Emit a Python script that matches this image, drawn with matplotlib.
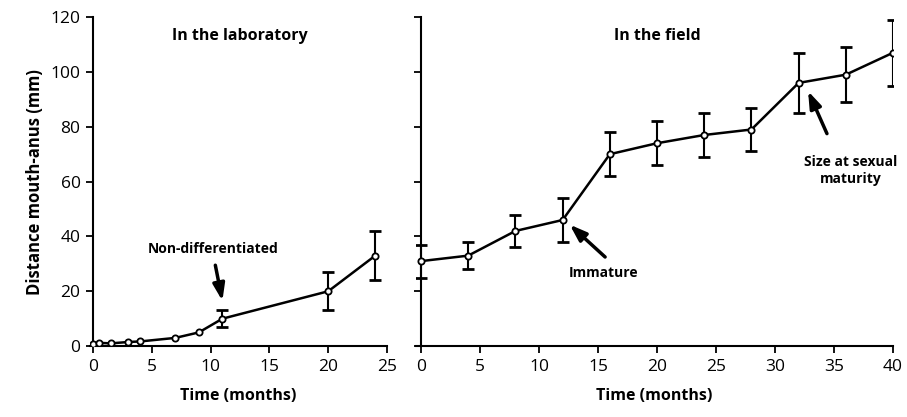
import matplotlib.pyplot as plt

plt.rcParams['font.family'] = ['Open Sans', 'DejaVu Sans']

# laboratory data
lab_t = [0, 0.5, 1.5, 3, 4, 7, 9, 11, 20, 24]
lab_y = [0.7, 1.2, 1.0, 1.5, 1.7, 3, 5, 10, 20, 33]
lab_err_t = [11, 20, 24]
lab_err_y = [10, 20, 33]
lab_err_lo = [3, 7, 9]
lab_err_hi = [3, 7, 9]

# field data
field_t = [0, 4, 8, 12, 16, 20, 24, 28, 32, 36, 40]
field_y = [31, 33, 42, 46, 70, 74, 77, 79, 96, 99, 107]
field_lo = [6, 5, 6, 8, 8, 8, 8, 8, 11, 10, 12]
field_hi = [6, 5, 6, 8, 8, 8, 8, 8, 11, 10, 12]

fig = plt.figure(figsize=(9.07, 4.17), dpi=100)
ax1 = fig.add_axes([0.0987, 0.170, 0.328, 0.789])
ax2 = fig.add_axes([0.459, 0.170, 0.5256, 0.789])

line_kw = dict(color='black', lw=1.8, marker='o', ms=4.5, mfc='white', mec='black', mew=1.3)
err_kw = dict(fmt='none', ecolor='black', elinewidth=1.5, capsize=4, capthick=2)

ax1.plot(lab_t, lab_y, **line_kw, zorder=3)
ax1.errorbar(lab_err_t, lab_err_y, yerr=[lab_err_lo, lab_err_hi], **err_kw)
ax2.plot(field_t, field_y, **line_kw, zorder=3)
ax2.errorbar(field_t, field_y, yerr=[field_lo, field_hi], **err_kw)

ax1.set_xlim(-0.3, 25)
ax2.set_xlim(-0.4, 40)
for ax in (ax1, ax2):
    ax.set_ylim(0, 120)
    ax.spines['top'].set_visible(False)
    ax.spines['right'].set_visible(False)
    ax.spines['left'].set_position(('data', 0))
    ax.spines['left'].set_linewidth(1.5)
    ax.spines['bottom'].set_linewidth(1.5)
    ax.tick_params(width=1.3, length=5, labelsize=12.5, pad=4)
    ax.set_yticks(range(0, 121, 20))
    ax.set_xlabel('Time (months)', fontsize=11.5, fontweight='bold', labelpad=10)

ax1.set_xticks(range(0, 26, 5))
ax2.set_xticks(range(0, 41, 5))
ax2.set_yticklabels([])
ax1.set_ylabel('Distance mouth-anus (mm)', fontsize=12, fontweight='bold', labelpad=5)

ax1.text(12.5, 113, 'In the laboratory', ha='center', va='center', fontsize=11.5, fontweight='bold')
ax2.text(20, 113, 'In the field', ha='center', va='center', fontsize=11.5, fontweight='bold')

arrow = dict(arrowstyle='-|>,head_width=0.35,head_length=1.0', color='black', lw=2.5,
             shrinkA=0, shrinkB=0)
ax1.annotate('', xy=(11, 16.5), xytext=(10.4, 29.5), arrowprops=arrow)
ax1.text(10.2, 35.5, 'Non-differentiated', fontsize=10, fontweight='bold', ha='center', va='center')
ax2.annotate('', xy=(12.6, 44.3), xytext=(15.6, 32.5), arrowprops=arrow)
ax2.text(15.5, 26.5, 'Immature', fontsize=10, fontweight='bold', ha='center', va='center')
ax2.annotate('', xy=(32.8, 93), xytext=(34.4, 77.5), arrowprops=arrow)
ax2.text(36.4, 64, 'Size at sexual\nmaturity', fontsize=10, fontweight='bold',
         ha='center', va='center', linespacing=1.3)

fig.savefig('out.png', dpi=100)
